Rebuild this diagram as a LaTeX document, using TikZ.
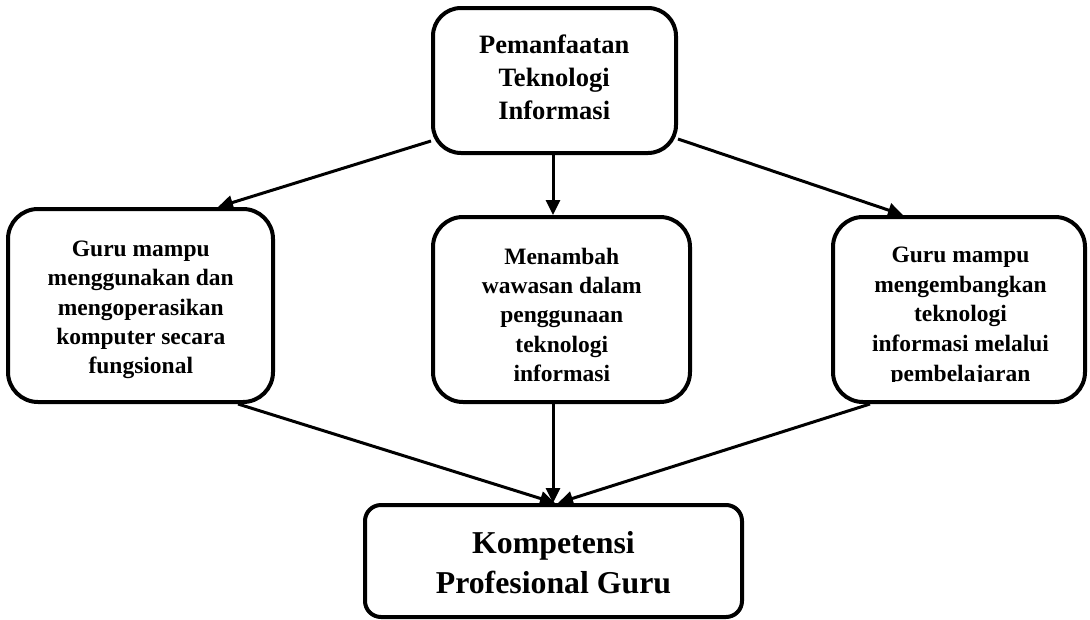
\documentclass[tikz,border=0pt]{standalone}
\usepackage{fontspec}
\setmainfont{Liberation Serif}
\usetikzlibrary{arrows.meta}
\begin{document}
\begin{tikzpicture}[x=1pt,y=-1pt,
  box/.style={draw=black, line width=4pt, rounded corners=30pt, inner sep=0pt},
  txt/.style={anchor=north, inner sep=0pt, align=center, font=\fontsize{23.5}{29.2}\selectfont\bfseries},
  conn/.style={line width=3pt, -{Triangle[length=15pt,width=14pt]}}]
\useasboundingbox (0,0) rectangle (1090,619);
% boxes
\node[box, rounded corners=28pt, minimum width=243pt, minimum height=145pt] (top) at (554.5,80.5) {};
\node[box, minimum width=265pt, minimum height=193pt] (left) at (140.5,305.5) {};
\node[box, minimum width=257pt, minimum height=185pt] (mid) at (561.5,309.5) {};
\node[box, minimum width=252pt, minimum height=185pt] (right) at (959,309.5) {};
\node[box, rounded corners=16pt, minimum width=377pt, minimum height=112pt] (bot) at (553.5,561) {};
% texts
\node[txt, font=\fontsize{26.5}{33}\selectfont\bfseries] (toptxt) at (554.2,34.5) {Pemanfaatan\\Teknologi\\Informasi};
\node[txt] (lefttxt) at (140.8,241) {Guru mampu\\menggunakan dan\\mengoperasikan\\komputer secara\\fungsional};
\node[txt] (midtxt) at (561.8,248) {Menambah\\wawasan dalam\\penggunaan\\teknologi\\informasi};
\begin{scope}
  \clip (833,217) rectangle (1085,381.5);
  \node[txt, font=\fontsize{23.5}{29.6}\selectfont\bfseries] (righttxt) at (960.5,247) {Guru mampu\\mengembangkan\\teknologi\\informasi melalui\\pembelajaran};
\end{scope}
\node[txt, font=\fontsize{31.8}{40}\selectfont\bfseries] (bottxt) at (553.5,531) {Kompetensi\\Profesional Guru};
% connectors
\draw[conn] ([yshift=14pt]top.south west) -- ([xshift=77.5pt]left.north);
\draw[conn] ([xshift=-1.5pt]top.south) -- ([xshift=-8.5pt]mid.north);
\draw[conn] ([yshift=16pt]top.south east) -- ([xshift=-56pt]right.north);
\draw[conn] ([xshift=97.5pt]left.south) -- ([xshift=1.5pt]bot.north);
\draw[conn] ([xshift=-8.5pt]mid.south) -- ([xshift=-0.5pt]bot.north);
\draw[conn] ([xshift=-89pt]right.south) -- ([xshift=4.5pt]bot.north);
\end{tikzpicture}
\end{document}
